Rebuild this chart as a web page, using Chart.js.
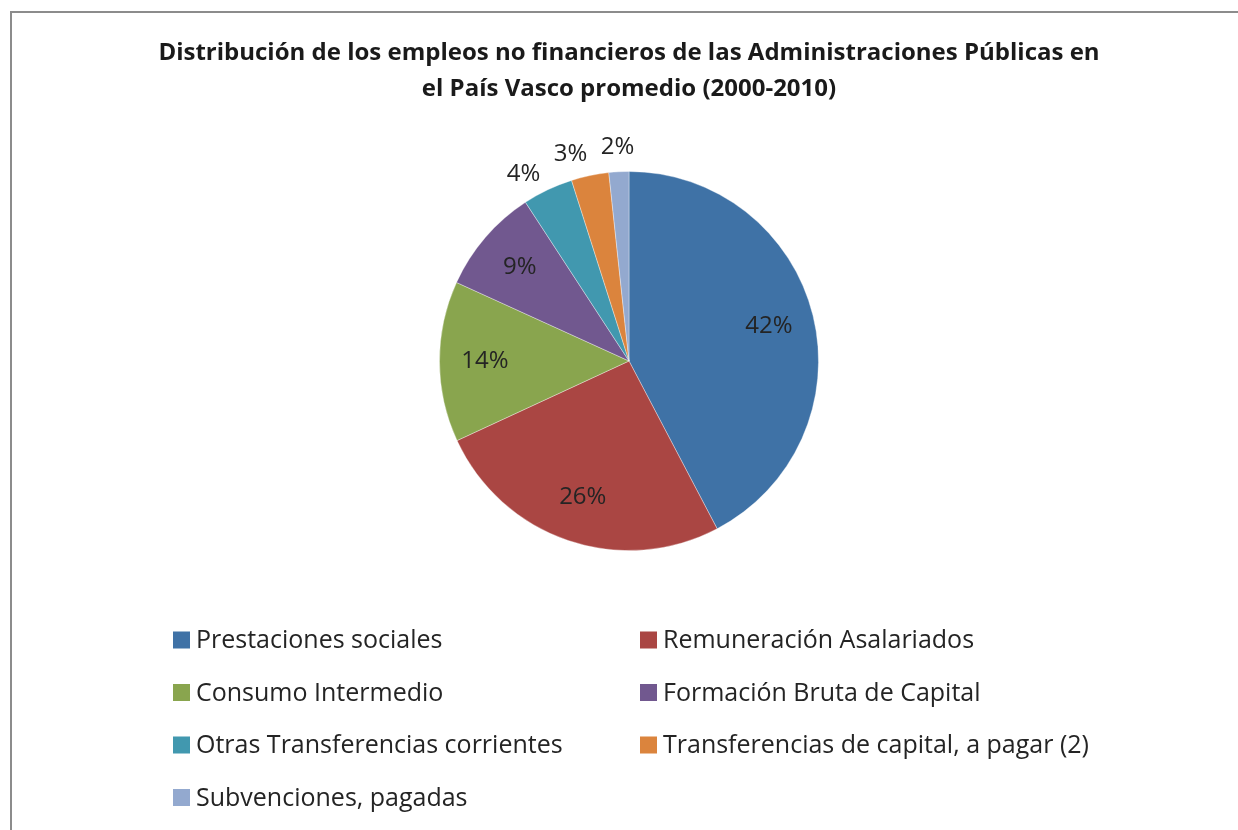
<!DOCTYPE html>
<html>
<head>
<meta charset="utf-8">
<script src="https://cdn.jsdelivr.net/npm/chart.js@4/dist/chart.umd.min.js"></script>
<style>
  html, body { margin: 0; padding: 0; background: #ffffff; }
  #wrap { position: relative; width: 1238px; height: 830px; overflow: hidden; }
  #frame { position: absolute; left: 10px; top: 11px; width: 1400px; height: 1000px;
           border: 2px solid #8c8c8c; box-sizing: border-box; }
  #c { position: absolute; left: 0; top: 0; }
</style>
</head>
<body>
<div id="wrap">
  <div id="frame"></div>
  <canvas id="c" width="1238" height="830"></canvas>
</div>
<script>
// Empleos no financieros, reparto medio 2000-2010 (%)
const categories = [
  'Prestaciones sociales',
  'Remuneración Asalariados',
  'Consumo Intermedio',
  'Formación Bruta de Capital',
  'Otras Transferencias corrientes',
  'Transferencias de capital, a pagar (2)',
  'Subvenciones, pagadas'
];
const shares = [42.3, 25.8, 13.7, 9.0, 4.3, 3.2, 1.7];
const sliceColors = ['#3F72A6', '#AA4643', '#89A54E', '#71588F', '#4198AF', '#DB843D', '#93A9CF'];
const titleLines = [
  'Distribución de los empleos no financieros de las Administraciones Públicas en',
  'el País Vasco promedio (2000-2010)'
];

const FONT = '"Open Sans", "Noto Sans", sans-serif';
const TEXT_COLOR = '#242424';

// Percentage labels: inside for the larger slices, outside (spread apart) for the small ones
const sliceLabels = {
  id: 'sliceLabels',
  afterDatasetsDraw(chart) {
    const ctx = chart.ctx;
    const meta = chart.getDatasetMeta(0);
    const values = chart.data.datasets[0].data;
    const total = values.reduce((a, b) => a + b, 0);
    ctx.save();
    ctx.font = '24px ' + FONT;
    ctx.fillStyle = TEXT_COLOR;
    ctx.textAlign = 'center';
    ctx.textBaseline = 'middle';
    const outside = [];
    meta.data.forEach((arc, i) => {
      const p = arc.getProps(['x', 'y', 'startAngle', 'endAngle', 'outerRadius'], true);
      const mid = (p.startAngle + p.endAngle) / 2;
      const pct = Math.round(values[i] / total * 100);
      const text = pct + '%';
      if (pct >= 5) {
        const r = p.outerRadius * 0.76;
        ctx.fillText(text, p.x + Math.cos(mid) * r, p.y + Math.sin(mid) * r);
      } else {
        const rr = p.outerRadius + 25;
        outside.push({ text, cx: p.x, cy: p.y, rr,
          x: p.x + Math.cos(mid) * rr, y: p.y + Math.sin(mid) * rr });
      }
    });
    // keep neighbouring outside labels apart by sliding them along the ring
    const minSep = 47;
    for (let k = outside.length - 2; k >= 0; k--) {
      const a = outside[k], b = outside[k + 1];
      if (a.x > b.x - minSep) {
        const dx = (b.x - minSep) - a.cx;
        const ang = -Math.acos(Math.max(-1, Math.min(1, dx / a.rr)));
        a.x = a.cx + Math.cos(ang) * a.rr;
        a.y = a.cy + Math.sin(ang) * a.rr;
      }
    }
    outside.forEach(o => ctx.fillText(o.text, o.x, o.y));
    ctx.restore();
  }
};

// Two-column legend below the pie
const gridLegend = {
  id: 'gridLegend',
  afterDraw(chart, args, opts) {
    const ctx = chart.ctx;
    const colors = chart.data.datasets[0].backgroundColor;
    ctx.save();
    ctx.font = opts.fontSize + 'px ' + FONT;
    ctx.textAlign = 'left';
    ctx.textBaseline = 'middle';
    chart.data.labels.forEach((label, i) => {
      const col = i % 2, row = Math.floor(i / 2);
      const x = opts.columns[col];
      const y = opts.top + row * opts.rowGap;
      ctx.fillStyle = colors[i];
      ctx.fillRect(x, y - opts.box / 2, opts.box, opts.box);
      ctx.fillStyle = TEXT_COLOR;
      ctx.fillText(label, x + opts.box + 6, y + 1);
    });
    ctx.restore();
  }
};

new Chart(document.getElementById('c'), {
  type: 'pie',
  data: {
    labels: categories,
    datasets: [{
      data: shares,
      backgroundColor: sliceColors,
      borderColor: 'rgba(255,255,255,0.35)',
      borderWidth: 1
    }]
  },
  options: {
    responsive: false,
    animation: false,
    devicePixelRatio: 1,
    layout: { padding: { top: 0, bottom: 279, left: 20, right: 0 } },
    plugins: {
      title: {
        display: true,
        text: titleLines,
        color: '#1a1a1a',
        font: { family: FONT, size: 24, weight: 'bold', lineHeight: 36 / 24 },
        padding: { top: 35, bottom: 64 }
      },
      legend: { display: false },
      tooltip: { enabled: false },
      gridLegend: { columns: [173, 640], top: 640, rowGap: 52.5, box: 17, fontSize: 25 }
    }
  },
  plugins: [sliceLabels, gridLegend]
});
</script>
</body>
</html>
